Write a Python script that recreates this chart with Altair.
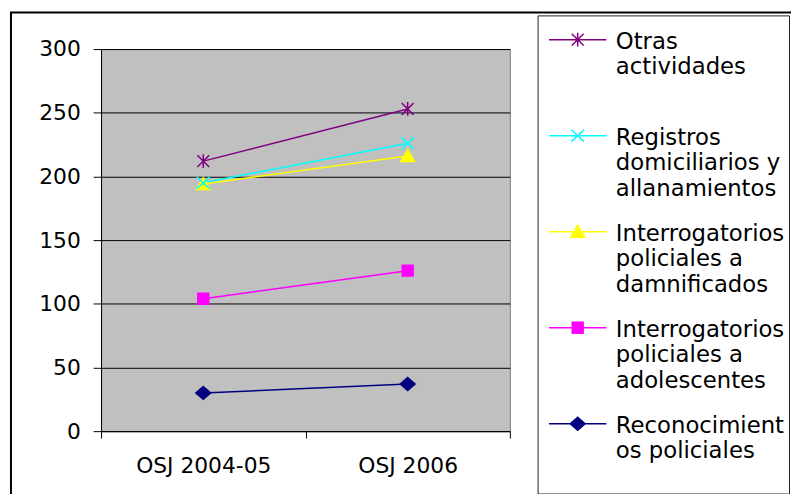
import altair as alt
import pandas as pd

# ---- data ----
categories = ["OSJ 2004-05", "OSJ 2006"]
series = [
    "Otras actividades",
    "Registros domiciliarios y allanamientos",
    "Interrogatorios policiales a damnificados",
    "Interrogatorios policiales a adolescentes",
    "Reconocimientos policiales",
]
otras = [212, 253]
registros = [195, 226]
interrog_damnificados = [194, 216]
interrog_adolescentes = [104, 126]
reconocimientos = [30, 37]
legend_lines = [
    ["Otras", "actividades"],
    ["Registros", "domiciliarios y", "allanamientos"],
    ["Interrogatorios", "policiales a", "damnificados"],
    ["Interrogatorios", "policiales a", "adolescentes"],
    ["Reconocimient", "os policiales"],
]
colors = ["#800080", "#00FFFF", "#FFFF00", "#FF00FF", "#000080"]

values = [otras, registros, interrog_damnificados, interrog_adolescentes, reconocimientos]
rows = []
for name, vals in zip(series, values):
    for cat, v in zip(categories, vals):
        rows.append({"cat": cat, "series": name, "value": v})
df = pd.DataFrame(rows)

# ---- marker geometry (pixels) ----
markers = [
    ("stroke", [[(-6, -6), (6, 6)], [(-6, 6), (6, -6)], [(0, -7), (0, 7)]]),
    ("stroke", [[(-6.5, -6), (6.5, 6)], [(-6.5, 6), (6.5, -6)]]),
    ("poly", [(0, -6.5), (7, 5.5), (-7, 5.5)]),
    ("poly", [(-5.5, -5.5), (5.5, -5.5), (5.5, 5.5), (-5.5, 5.5)]),
    ("poly", [(0, -6.5), (7.5, 0), (0, 6.5), (-7.5, 0)]),
]


def fmt(v):
    return f"{v:.4f}".rstrip("0").rstrip(".")


def marker_path(m, r, dy=0.0):
    kind, geo = m
    out = []
    if kind == "stroke":
        for seg in geo:
            (x1, y1), (x2, y2) = seg
            out.append(f"M{fmt(x1/r)},{fmt((y1+dy)/r)}L{fmt(x2/r)},{fmt((y2+dy)/r)}")
    else:
        pts = [f"{fmt(x/r)},{fmt((y+dy)/r)}" for x, y in geo]
        out.append("M" + "L".join(pts) + "Z")
    return "".join(out)


CHART_R = 10  # point size 400
LEG_R = 1     # legend symbol size 4 -> path units are pixels
LEG_DY = 9
LEG_HALF = 29
chart_paths = [marker_path(m, CHART_R) for m in markers]
legend_paths = [f"M{-LEG_HALF},{LEG_DY}L{LEG_HALF},{LEG_DY}" + marker_path(m, LEG_R, LEG_DY) for m in markers]

# label expression (multi-line legend labels, padded to 3 lines for equal rows)
expr = "datum.label"
for name, lines in reversed(list(zip(series, legend_lines))):
    padded = list(lines) + [""] * (3 - len(lines))
    arr = "[" + ",".join("'" + l + "'" for l in padded) + "]"
    expr = f"datum.label == '{name}' ? {arr} : ({expr})"

FONT = "DejaVu Sans"

def cscale():
    return alt.Scale(domain=series, range=colors)

x_enc = alt.X(
    "cat:N",
    scale=alt.Scale(type="band", domain=categories, paddingInner=0, paddingOuter=0),
    axis=alt.Axis(title=None, labelAngle=0, tickBand="extent", tickSize=7, labelPadding=18,
                  labelFont=FONT, labelFontSize=22, labelColor="black",
                  domainColor="black", tickColor="black", grid=False),
)
y_enc = alt.Y(
    "value:Q",
    scale=alt.Scale(domain=[0, 300], nice=False),
    axis=alt.Axis(title=None, values=[0, 50, 100, 150, 200, 250, 300], tickSize=8, labelPadding=13,
                  labelFont=FONT, labelFontSize=22, labelColor="black",
                  domainColor="black", tickColor="black", grid=True, gridColor="black",
                  gridOpacity=1, gridWidth=1),
)

legend_spec = alt.Legend(
    orient="none", legendX=441, legendY=-34, title=None, direction="vertical",
    labelExpr=expr, labelFont=FONT, labelFontSize=23, labelColor="black",
    labelBaseline="top", labelLimit=400, labelOffset=27,
    symbolSize=4, symbolOffset=25, symbolStrokeWidth=1.5, symbolOpacity=1,
    rowPadding=10, gridAlign="all", padding=4,
    strokeColor="#222222", fillColor="white",
)

base = alt.Chart(df)

frame = alt.Chart(pd.DataFrame({"f": [0]})).mark_rect(
    filled=False, color="black", strokeWidth=2
).encode(x=alt.value(-91), x2=alt.value(800), y=alt.value(-37), y2=alt.value(600))

lines = base.mark_line(strokeWidth=1.5).encode(
    x=x_enc, y=y_enc,
    color=alt.Color("series:N", scale=cscale(), legend=None),
)

point_layers = []
for idx in [4, 3, 2, 1, 0]:
    point_layers.append(
        base.transform_filter(alt.datum.series == series[idx]).mark_point(
            shape=chart_paths[idx], filled=True, size=(2 * CHART_R) ** 2, strokeWidth=1.5, opacity=1
        ).encode(
            x=x_enc, y=y_enc,
            color=alt.Color("series:N", scale=cscale(), legend=None),
            stroke=alt.Stroke("series:N", scale=cscale(), legend=None),
        )
    )

legend_layer = base.transform_filter("false").mark_point(filled=True, strokeWidth=1.5).encode(
    x=x_enc, y=y_enc,
    color=alt.Color("series:N", scale=cscale(), legend=legend_spec),
    stroke=alt.Stroke("series:N", scale=cscale(), legend=legend_spec),
    shape=alt.Shape("series:N", scale=alt.Scale(domain=series, range=legend_paths), legend=legend_spec),
)

chart = alt.layer(frame, lines, *point_layers, legend_layer).resolve_scale(
    color="independent", stroke="independent", shape="independent"
).properties(
    width=413, height=386,
    padding={"left": 94, "top": 39, "right": 284, "bottom": 61},
    autosize=alt.AutoSizeParams(type="none"),
    background="white",
).configure(
    style={"guide-label": {"lineHeight": 26}}
).configure_view(
    fill="#C0C0C0", stroke="#808080", strokeWidth=1
)

chart.save("out.html", embed_options={"renderer": "svg", "actions": False})
